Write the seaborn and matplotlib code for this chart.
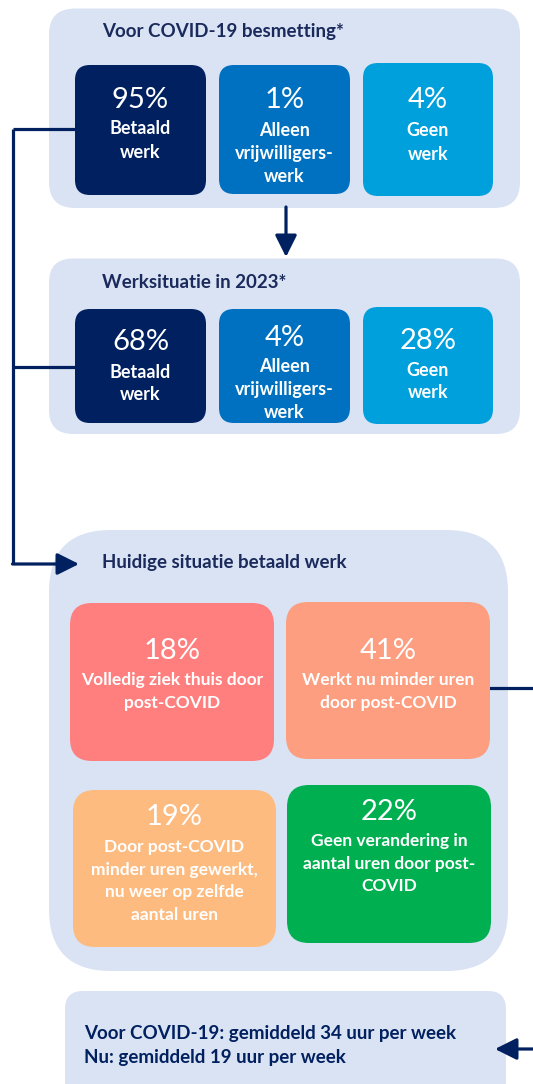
import matplotlib
matplotlib.use("Agg")
import matplotlib.pyplot as plt
from matplotlib.patches import FancyBboxPatch
import seaborn as sns

sns.set_theme(style="white")
plt.rcParams['font.family'] = ['Lato', 'DejaVu Sans']

# ---- data ----
before_title = "Voor COVID-19 besmetting*"
now_title = "Werksituatie in 2023*"
work_labels = ["Betaald\nwerk", "Alleen\nvrijwilligers-\nwerk", "Geen\nwerk"]
before_pct = [95, 1, 4]
now_pct = [68, 4, 28]
paid_title = "Huidige situatie betaald werk"
paid_labels = ["Volledig ziek thuis door\npost-COVID",
               "Werkt nu minder uren\ndoor post-COVID",
               "Door post-COVID\nminder uren gewerkt,\nnu weer op zelfde\naantal uren",
               "Geen verandering in\naantal uren door post-\nCOVID"]
paid_pct = [18, 41, 19, 22]
hours_before = 34
hours_now = 19

# ---- styles ----
PANEL = "#dae3f3"
NAVY = "#002060"
TITLE = "#1b2a5c"
work_colors = ["#002060", "#0070c0", "#00a0dc"]
paid_colors = ["#ff7f7f", "#fc9e7f", "#fdbb80", "#00b050"]

W, H = 533, 1084
fig = plt.figure(figsize=(W / 100, H / 100), dpi=100)
ax = fig.add_axes([0, 0, 1, 1])
ax.set_xlim(0, W)
ax.set_ylim(H, 0)
ax.axis("off")
sns.despine(ax=ax, left=True, bottom=True)


def rbox(x0, y0, x1, y1, color, r, z=1):
    p = FancyBboxPatch((x0, y0), x1 - x0, y1 - y0,
                       boxstyle=f"round,pad=0,rounding_size={r}",
                       fc=color, ec="none", zorder=z)
    ax.add_patch(p)


def line(xs, ys):
    ax.plot(xs, ys, color=NAVY, lw=2.3, solid_capstyle="butt", zorder=1.5)


def arrow(x0, y0, x1, y1):
    ax.annotate("", xy=(x1, y1), xytext=(x0, y0),
                arrowprops=dict(arrowstyle="-|>,head_length=1.1,head_width=0.55",
                                color=NAVY, lw=2.3, shrinkA=0, shrinkB=0),
                zorder=1.5)


# connectors
line([12.5, 12.5], [129, 564])
line([12.5, 75], [129, 129])
line([12.5, 75], [367, 367])
arrow(12.5, 564, 79, 564)
arrow(286, 207, 286, 257)
line([489, 533], [688, 688])
arrow(533, 1049, 495, 1049)

# panels
rbox(49, 8.5, 520, 208, PANEL, 26)
rbox(49, 258.5, 520, 434, PANEL, 24)
rbox(49, 530, 508, 971, PANEL, 62)
rbox(65, 991, 506, 1110, PANEL, 18)

title_kw = dict(color=TITLE, fontsize=13.5, fontweight="bold", ha="left", va="center")
ax.text(102, 32, before_title, **title_kw)
ax.text(102, 283, now_title, **title_kw)
ax.text(102, 562.5, paid_title, **title_kw)

# work boxes
bx = [(75, 206), (219, 350), (363, 493)]
before_y = [(65, 195), (65, 194), (63, 196)]
now_y = [(309, 423), (309, 423), (307, 424)]
before_pct_y = [100, 100, 100]
now_pct_y = [342, 338, 341]
before_lbl_y = [129, 131, 131]
now_lbl_y = [372, 367, 370]

LS = 23
PCT_FS = 21
for i in range(3):
    x0, x1 = bx[i]
    cx = (x0 + x1) / 2
    # before
    y0, y1 = before_y[i]
    rbox(x0, y0, x1, y1, work_colors[i], 15, z=2)
    ax.text(cx, before_pct_y[i], f"{before_pct[i]}%", color="white", fontsize=PCT_FS,
            ha="center", va="center", zorder=3)
    for k, ln in enumerate(work_labels[i].split("\n")):
        ax.text(cx, before_lbl_y[i] + k * LS, ln, color="white", fontsize=13,
                fontweight="bold", ha="center", va="center", zorder=3)
    # now
    y0, y1 = now_y[i]
    rbox(x0, y0, x1, y1, work_colors[i], 15, z=2)
    ax.text(cx, now_pct_y[i], f"{now_pct[i]}%", color="white", fontsize=PCT_FS,
            ha="center", va="center", zorder=3)
    for k, ln in enumerate(work_labels[i].split("\n")):
        ax.text(cx, now_lbl_y[i] + k * LS, ln, color="white", fontsize=13,
                fontweight="bold", ha="center", va="center", zorder=3)

# paid work boxes
pb = [(70, 603, 274, 761), (286, 602, 490, 759), (73, 790, 276, 947), (287, 785, 491, 943)]
pct_y = [651, 651, 817, 812]
lbl_y = [680, 680, 847, 841]
for i in range(4):
    x0, y0, x1, y1 = pb[i]
    cx = (x0 + x1) / 2
    rbox(x0, y0, x1, y1, paid_colors[i], 22, z=2)
    ax.text(cx, pct_y[i], f"{paid_pct[i]}%", color="white", fontsize=PCT_FS,
            ha="center", va="center", zorder=3)
    for k, ln in enumerate(paid_labels[i].split("\n")):
        ax.text(cx, lbl_y[i] + k * 22.7, ln, color="white", fontsize=12.5,
                fontweight="bold", ha="center", va="center", zorder=3)

# hours
ax.text(84, 1033, f"Voor COVID-19: gemiddeld {hours_before} uur per week",
        color=NAVY, fontsize=13.5, fontweight="bold", ha="left", va="center")
ax.text(84, 1058, f"Nu: gemiddeld {hours_now} uur per week",
        color=NAVY, fontsize=13.5, fontweight="bold", ha="left", va="center")

fig.savefig("out.png", dpi=100)
